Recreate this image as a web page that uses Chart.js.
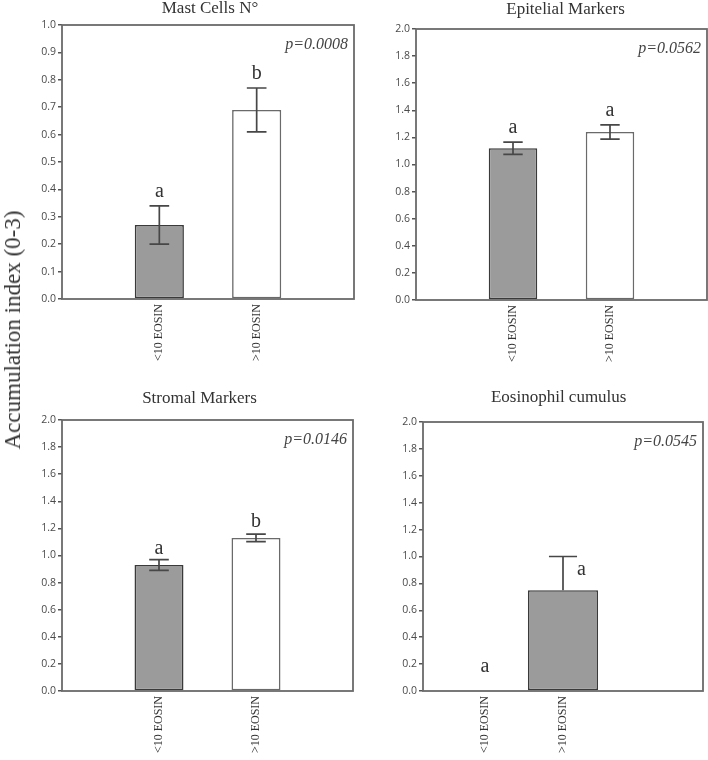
<!DOCTYPE html>
<html><head><meta charset="utf-8">
<script src="https://cdn.jsdelivr.net/npm/chart.js@4.4.0/dist/chart.umd.min.js"></script>
<style>
html,body{margin:0;padding:0;background:#fff;}
#wrap{position:relative;width:708px;height:760px;overflow:hidden;background:#fff;}
.pane{position:absolute;}
#ytitle{position:absolute;left:13px;top:330px;transform:translate(-50%,-50%) rotate(-90deg);font-family:'Liberation Serif','Times New Roman',serif;font-size:23px;color:#333;white-space:nowrap;z-index:5;}
</style></head>
<body><div id="wrap">
<div class="pane" style="left:0px;top:0px"><canvas id="c1" width="360" height="380"></canvas></div>
<div class="pane" style="left:360px;top:0px"><canvas id="c2" width="348" height="380"></canvas></div>
<div class="pane" style="left:0px;top:380px"><canvas id="c3" width="360" height="380"></canvas></div>
<div class="pane" style="left:360px;top:380px"><canvas id="c4" width="348" height="380"></canvas></div>
<div id="ytitle">Accumulation index (0-3)</div>
</div>
<script>
// ---- data ----
const categories = ['<10 EOSIN', '>10 EOSIN'];
const titles = ['Mast Cells N°', 'Epitelial Markers', 'Stromal Markers', 'Eosinophil cumulus'];
const pValues = ['p=0.0008', 'p=0.0562', 'p=0.0146', 'p=0.0545'];
const mastValues = [0.27, 0.69];
const mastErrors = [0.07, 0.08];
const mastLetters = ['a', 'b'];
const epiValues = [1.12, 1.24];
const epiErrors = [0.045, 0.053];
const epiLetters = ['a', 'a'];
const stromaValues = [0.93, 1.13];
const stromaErrors = [0.04, 0.028];
const stromaLetters = ['a', 'b'];
const eosValues = [0, 0.75];
const eosErrors = [0, 0.25];
const eosLetters = ['a', 'a'];
const yMaxes = [1.0, 2.0, 2.0, 2.0];
const ySteps = [0.1, 0.2, 0.2, 0.2];

const GRAY = '#9b9b9b', WHITE = '#ffffff', DARK = '#3a3a3a', MID = '#6a6a6a';
const SERIF = '"Liberation Serif", "Times New Roman", serif';

const panels = [
  {id:'c1', cx:0, cy:0, cw:360, ch:380, area:[62,25,354,299], xRange:[0,3], barPct:0.505,
   values:mastValues, errors:mastErrors, letters:mastLetters, title:titles[0], p:pValues[0], yMax:yMaxes[0], yStep:ySteps[0],
   fills:[GRAY, WHITE], borders:[DARK, MID], titlePos:[210,13], letterOff:[[0,-9],[0,-9]], upperOnly:false},
  {id:'c2', cx:360, cy:0, cw:348, ch:380, area:[416,29,707,300], xRange:[0,3], barPct:0.5,
   values:epiValues, errors:epiErrors, letters:epiLetters, title:titles[1], p:pValues[1], yMax:yMaxes[1], yStep:ySteps[1],
   fills:[GRAY, WHITE], borders:[DARK, MID], titlePos:[565.5,13.5], letterOff:[[0,-9],[0,-9]], upperOnly:false},
  {id:'c3', cx:0, cy:380, cw:360, ch:380, area:[62,420,353,691], xRange:[0,3], barPct:0.505,
   values:stromaValues, errors:stromaErrors, letters:stromaLetters, title:titles[2], p:pValues[2], yMax:yMaxes[2], yStep:ySteps[2],
   fills:[GRAY, WHITE], borders:[DARK, MID], titlePos:[199.5,402.5], letterOff:[[0,-6],[0,-7]], upperOnly:false},
  {id:'c4', cx:360, cy:380, cw:348, ch:380, area:[423,422,703,691], xRange:[0.205,3.795], barPct:0.9,
   values:eosValues, errors:eosErrors, letters:eosLetters, title:titles[3], p:pValues[3], yMax:yMaxes[3], yStep:ySteps[3],
   fills:[GRAY, GRAY], borders:[DARK, DARK], titlePos:[558.7,401.5], letterOff:[[0,-19],[18.5,18.5]], upperOnly:true}
];

function makeDeco(p) {
  return {
    id: 'deco_' + p.id,
    afterDatasetsDraw(chart) {
      const ctx = chart.ctx, a = chart.chartArea, y = chart.scales.y;
      const meta = chart.getDatasetMeta(0);
      ctx.save();
      // error bars
      ctx.strokeStyle = '#474747'; ctx.lineWidth = 1.7;
      meta.data.forEach((bar, i) => {
        const v = p.values[i], e = p.errors[i];
        if (!e) return;
        const top = y.getPixelForValue(v + e);
        const bot = y.getPixelForValue(p.upperOnly ? v : v - e);
        const half = bar.width * 0.2;
        ctx.beginPath();
        ctx.moveTo(bar.x, top); ctx.lineTo(bar.x, bot);
        ctx.moveTo(bar.x - half, top); ctx.lineTo(bar.x + half, top);
        if (!p.upperOnly) { ctx.moveTo(bar.x - half, bot); ctx.lineTo(bar.x + half, bot); }
        ctx.stroke();
      });
      // frame
      ctx.strokeStyle = '#6a6a6a'; ctx.lineWidth = 1.8;
      ctx.strokeRect(a.left, a.top, a.right - a.left, a.bottom - a.top);
      // letters
      ctx.fillStyle = '#333'; ctx.font = '20px ' + SERIF;
      ctx.textAlign = 'center'; ctx.textBaseline = 'alphabetic';
      meta.data.forEach((bar, i) => {
        const top = y.getPixelForValue(p.values[i] + p.errors[i]);
        const off = p.letterOff[i];
        ctx.fillText(p.letters[i], bar.x + off[0], top + off[1]);
      });
      // p value
      ctx.font = 'italic 16px ' + SERIF; ctx.textAlign = 'right'; ctx.fillStyle = '#444';
      ctx.fillText(p.p, a.right - 6, a.top + 24);
      // title
      ctx.font = '17px ' + SERIF; ctx.textAlign = 'center'; ctx.fillStyle = '#333';
      ctx.fillText(p.title, p.titlePos[0] - p.cx, p.titlePos[1] - p.cy);
      ctx.restore();
    }
  };
}

function build(p) {
  const [L, T, R, B] = p.area;
  const l = L - p.cx, t = T - p.cy, r = R - p.cx, b = B - p.cy;
  const yW = 40, xH = 70;
  new Chart(document.getElementById(p.id), {
    type: 'bar',
    data: {
      datasets: [{
        data: p.values.map((v, i) => ({x: i + 1, y: v})),
        backgroundColor: p.fills,
        borderColor: p.borders,
        borderWidth: 1.6,
        borderSkipped: false,
        categoryPercentage: 1,
        barPercentage: p.barPct
      }]
    },
    options: {
      responsive: false,
      animation: false,
      layout: {padding: {left: l - yW, top: t, right: p.cw - r, bottom: p.ch - b - xH}},
      plugins: {legend: {display: false}, tooltip: {enabled: false}, title: {display: false}},
      scales: {
        x: {
          type: 'linear', min: p.xRange[0], max: p.xRange[1], offset: false,
          afterBuildTicks: s => { s.ticks = categories.map((c, i) => ({value: i + 1})); },
          afterFit: s => { s.height = xH; s.paddingLeft = 0; s.paddingRight = 0; },
          grid: {display: false, drawTicks: false},
          border: {display: false},
          ticks: {minRotation: 90, maxRotation: 90, autoSkip: false, padding: 5, color: '#333',
                  font: {family: SERIF, size: 12}, callback: (v, i) => categories[i]}
        },
        y: {
          min: 0, max: p.yMax,
          afterFit: s => { s.width = yW; s.paddingTop = 0; s.paddingBottom = 0; },
          grid: {drawOnChartArea: false, drawTicks: true, tickLength: 4, color: '#555', lineWidth: 1.5},
          border: {display: false},
          ticks: {stepSize: p.yStep, padding: 2, color: '#4a4a4a',
                  font: {family: '"Open Sans", sans-serif', size: 10.5}, callback: v => v.toFixed(1)}
        }
      }
    },
    plugins: [makeDeco(p)]
  });
}
panels.forEach(build);
</script>
</body></html>
